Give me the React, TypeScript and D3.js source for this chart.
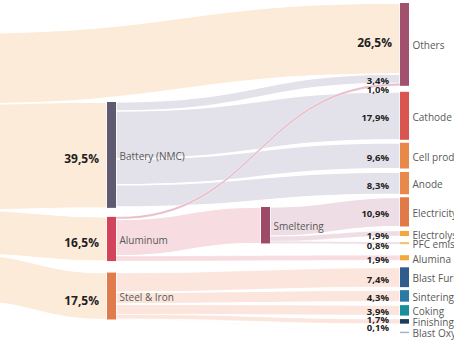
import React from "react";
import * as d3 from "d3";

const W = 454;
const H = 341;

// ---- data ----
const nodeIds = [
  "src", "battery", "aluminum", "steel", "smelter",
  "others", "cathode", "cell", "anode", "electricity", "electrolysis", "pfc", "alumina",
  "blastFurnace", "sintering", "coking", "finishing", "blastOxy",
];
const nodeLabels = [
  "Energy", "Battery (NMC)", "Aluminum", "Steel & Iron", "Smeltering",
  "Others", "Cathode", "Cell production", "Anode", "Electricity", "Electrolysis", "PFC emissions", "Alumina refining",
  "Blast Furnace", "Sintering", "Coking", "Finishing", "Blast Oxygen Furnace",
];
const nodeColumns = [0, 1, 1, 1, 2, 3, 3, 3, 3, 3, 3, 3, 3, 3, 3, 3, 3, 3];

const linkSources = [
  "src", "src", "src", "src",
  "battery", "battery", "battery", "battery",
  "aluminum", "aluminum", "aluminum",
  "smelter", "smelter", "smelter",
  "steel", "steel", "steel", "steel", "steel",
];
const linkTargets = [
  "others", "battery", "aluminum", "steel",
  "others", "cathode", "cell", "anode",
  "others", "smelter", "alumina",
  "electricity", "electrolysis", "pfc",
  "blastFurnace", "sintering", "coking", "finishing", "blastOxy",
];
const linkValues = [
  26.5, 39.5, 16.5, 17.5,
  3.4, 17.9, 9.6, 8.3,
  1.0, 13.6, 1.9,
  10.9, 1.9, 0.8,
  7.4, 4.3, 3.9, 1.7, 0.1,
];

// ---- styles / layout ----
const nodeColors: Record<string, string> = {
  src: "#f3d9bd", battery: "#5f5972", aluminum: "#d2445c", steel: "#e07b4c", smelter: "#9c4a68",
  others: "#a1506e", cathode: "#da5450", cell: "#e8894a", anode: "#e8894a", electricity: "#e27a47",
  electrolysis: "#f2a93b", pfc: "#f4c26e", alumina: "#f2a93b",
  blastFurnace: "#2f5d8c", sintering: "#2a7ba3", coking: "#16909b", finishing: "#1b3d5e", blastOxy: "#a3b5c8",
};
const linkColors: Record<string, string> = {
  src: "#fcebd9", battery: "#e3e1e9", aluminum: "#f7dce1", smelter: "#eeddE4", steel: "#fbe5dc",
};
const colX = [-46, 107, 261, 400];
const nodeWidth = 9;
// padding above each node within its column
const nodePad: Record<string, number> = {
  src: 33, battery: 102, aluminum: 9, steel: 11.5, smelter: 207,
  others: 3, cathode: 6, cell: 3, anode: 3.5, electricity: 3, electrolysis: 4.5, pfc: 6, alumina: 11,
  blastFurnace: 7, sintering: 3, coking: 3.5, finishing: 3.5, blastOxy: 8,
};

const FONT = "'Open Sans', 'Noto Sans', sans-serif";

type N = { id: string; label: string; col: number; value: number; x0: number; x1: number; y0: number; y1: number; outY: number; inY: number };
type L = { s: N; t: N; value: number; sy0: number; sy1: number; ty0: number; ty1: number };

function layout() {
  const y = d3.scaleLinear().domain([0, 100]).range([0, 268]);
  const nodes: N[] = nodeIds.map((id, i) => {
    const inV = d3.sum(linkValues.filter((_, j) => linkTargets[j] === id));
    const outV = d3.sum(linkValues.filter((_, j) => linkSources[j] === id));
    return { id, label: nodeLabels[i], col: nodeColumns[i], value: Math.max(inV, outV), x0: 0, x1: 0, y0: 0, y1: 0, outY: 0, inY: 0 };
  });
  const byId = new Map(nodes.map((n) => [n.id, n]));
  const cols = d3.groups(nodes, (n) => n.col);
  cols.forEach(([c, ns]) => {
    let cur = 0;
    ns.forEach((n) => {
      cur += nodePad[n.id];
      n.x0 = colX[c];
      n.x1 = colX[c] + nodeWidth;
      n.y0 = cur;
      n.y1 = cur + Math.max(1.5, y(n.value));
      cur = n.y0 + y(n.value);
      n.outY = n.y0;
      n.inY = n.y0;
    });
  });
  const links: L[] = linkValues.map((v, i) => {
    const s = byId.get(linkSources[i])!;
    const t = byId.get(linkTargets[i])!;
    const h = y(v);
    const l = { s, t, value: v, sy0: s.outY, sy1: s.outY + h, ty0: t.inY, ty1: t.inY + h };
    s.outY += h;
    t.inY += h;
    return l;
  });
  return { nodes, links };
}

function bandPath(l: L) {
  const x0 = l.s.x1;
  const x1 = l.t.x0;
  const xm = (x0 + x1) / 2;
  const p = d3.path();
  p.moveTo(x0, l.sy0);
  p.bezierCurveTo(xm, l.sy0, xm, l.ty0, x1, l.ty0);
  p.lineTo(x1, l.ty1);
  p.bezierCurveTo(xm, l.ty1, xm, l.sy1, x0, l.sy1);
  p.closePath();
  return p.toString();
}

const fmt = (v: number) => d3.format(".1f")(v).replace(".", ",") + "%";

export default function App() {
  const { nodes, links } = layout();

  // Link draw order: source links, then battery, smelter, steel, aluminium on top
  const order = ["src", "battery", "smelter", "steel", "aluminum"];
  const sorted = [...links].sort((a, b) => order.indexOf(a.s.id) - order.indexOf(b.s.id));

  // Labels on links ending in column 1 or 3
  const labelLinks = links.filter((l) => l.t.col === 1 || l.t.col === 3);
  const labels = labelLinks.map((l) => {
    const big = l.s.id === "src";
    return {
      text: fmt(l.value),
      big,
      x: l.t.x0 - (big ? 8 : 11),
      y: (l.ty0 + l.ty1) / 2 + (big ? 4 : 2),
      col: l.t.col,
    };
  });
  // simple collision nudging per column, kept inside the bottom edge
  d3.groups(labels, (d) => d.col).forEach(([, ls]) => {
    ls.sort((a, b) => a.y - b.y);
    for (let i = 1; i < ls.length; i++) {
      const minGap = ls[i].big || ls[i - 1].big ? 12 : 9;
      if (ls[i].y - ls[i - 1].y < minGap) ls[i].y = ls[i - 1].y + minGap;
    }
    const maxY = H - 14;
    if (ls.length) ls[ls.length - 1].y = Math.min(ls[ls.length - 1].y, maxY);
    for (let i = ls.length - 2; i >= 0; i--) {
      const g = 8;
      if (ls[i + 1].y - ls[i].y < g) ls[i].y = ls[i + 1].y - g;
    }
  });

  return (
    <div style={{ position: "fixed", left: 0, top: 0, width: W, height: H, background: "#fff" }}>
      <svg width={W} height={H} style={{ display: "block" }}>
        <rect width={W} height={H} fill="#fff" />
        <g>
          {sorted.map((l, i) => (
            <path
              key={i}
              d={bandPath(l)}
              fill={l.s.id === "aluminum" && l.t.id === "others" ? "#e9bfcc" : linkColors[l.s.id]}
              stroke="#fff"
              strokeWidth={l.value < 2 ? 0.4 : 1.4}
            />
          ))}
        </g>
        <g>
          {nodes.map((n) => (
            <rect key={n.id} x={n.x0} y={n.y0} width={n.x1 - n.x0} height={n.y1 - n.y0} fill={nodeColors[n.id]} />
          ))}
        </g>
        <g fontFamily={FONT} fontSize={10} fill="#595959">
          {nodes.map((n) => (
            <text key={n.id} x={n.x1 + 3.5} y={(n.y0 + n.y1) / 2 + (n.id === "src" ? -5 : 1)} dominantBaseline="central">
              {n.label}
            </text>
          ))}
        </g>
        <g fontFamily={FONT} fontWeight={700} fill="#1f1f1f">
          {labels.map((d, i) => (
            <text key={i} x={d.x} y={d.y} textAnchor="end" dominantBaseline="central" fontSize={d.big ? 12 : 9.5}>
              {d.text}
            </text>
          ))}
        </g>
      </svg>
    </div>
  );
}
